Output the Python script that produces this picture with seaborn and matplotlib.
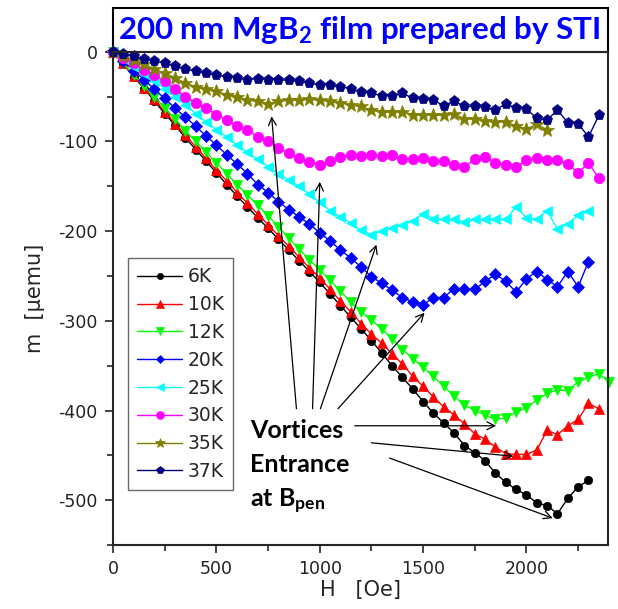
import pandas as pd
import seaborn as sns
import matplotlib.pyplot as plt
from matplotlib.patches import Rectangle
from matplotlib.ticker import MultipleLocator

# field grid [Oe] (50 Oe steps) and m [uemu] per temperature
H_Oe = [0, 50, 100, 150, 200, 250, 300, 350, 400, 450,
        500, 550, 600, 650, 700, 750, 800, 850, 900, 950,
        1000, 1050, 1100, 1150, 1200, 1250, 1300, 1350, 1400, 1450,
        1500, 1550, 1600, 1650, 1700, 1750, 1800, 1850, 1900, 1950,
        2000, 2050, 2100, 2150, 2200, 2250, 2300, 2350, 2400]

m_6K = [0, -14, -28, -41, -55, -69, -82, -96, -109, -122,
        -135, -148, -161, -173, -185, -197, -209, -221, -233, -245,
        -257, -270, -283, -296, -309, -322, -336, -350, -363, -376,
        -390, -403, -414, -425, -439, -447, -456, -470, -480, -488,
        -494, -503, -506, -515, -498, -485, -478]
m_10K = [0, -13, -27, -40, -53, -67, -80, -93, -106, -119,
         -132, -144, -157, -169, -181, -193, -205, -217, -229, -241,
         -252, -265, -278, -290, -303, -315, -325, -337, -348, -362,
         -373, -385, -396, -405, -415, -426, -432, -441, -448, -449,
         -449, -444, -422, -427, -417, -410, -392, -398]
m_12K = [0, -13, -26, -38, -50, -63, -75, -88, -100, -112,
         -124, -136, -148, -160, -171, -183, -195, -208, -220, -232,
         -243, -255, -267, -279, -290, -299, -309, -320, -332, -342,
         -352, -362, -373, -384, -394, -400, -405, -410, -408, -402,
         -397, -388, -381, -377, -378, -368, -363, -359, -368]
m_20K = [0, -10, -21, -31, -42, -52, -63, -73, -83, -94,
         -104, -115, -125, -136, -148, -157, -167, -176, -184, -192,
         -202, -211, -221, -230, -240, -251, -258, -266, -274, -279,
         -282, -274, -274, -264, -265, -265, -256, -248, -256, -268,
         -253, -245, -254, -262, -245, -262, -234]
m_25K = [0, -8, -17, -25, -33, -41, -50, -59, -69, -78,
         -87, -95, -104, -112, -120, -128, -136, -143, -150, -159,
         -168, -177, -184, -191, -199, -204, -200, -197, -193, -189,
         -181, -186, -187, -187, -190, -187, -187, -186, -187, -173,
         -185, -187, -177, -198, -192, -182, -178]
m_30K = [0, -7, -13, -20, -26, -33, -42, -50, -57, -63,
         -70, -76, -83, -87, -95, -100, -107, -113, -119, -123,
         -126, -122, -117, -115, -116, -115, -116, -115, -120, -120,
         -119, -122, -122, -126, -128, -120, -117, -124, -126, -128,
         -121, -119, -121, -121, -125, -135, -124, -141]
m_35K = [0, -5, -9, -14, -19, -24, -29, -35, -39, -42,
         -44, -48, -50, -54, -55, -58, -55, -54, -54, -53,
         -54, -55, -57, -59, -61, -65, -67, -67, -67, -70,
         -70, -70, -71, -69, -75, -75, -77, -78, -78, -83,
         -86, -81, -87]
m_37K = [0, -3, -5, -8, -10, -13, -16, -19, -22, -24,
         -26, -28, -29, -31, -30, -31, -31, -32, -33, -35,
         -37, -37, -39, -41, -45, -46, -49, -49, -46, -52,
         -53, -54, -60, -55, -61, -61, -62, -65, -58, -63,
         -64, -74, -76, -65, -79, -80, -95, -71]

temps = ['6K', '10K', '12K', '20K', '25K', '30K', '35K', '37K']
series = [m_6K, m_10K, m_12K, m_20K, m_25K, m_30K, m_35K, m_37K]

colors = ['#000000', '#ff0000', '#00ff00', '#0000ff',
          '#00ffff', '#ff00ff', '#808000', '#000080']
markers = ['o', '^', 'v', 'D', '<', 'o', '*', 'p']
msizes = [6, 7.5, 7.5, 6, 7.5, 7.5, 10, 8]

rows = []
for t, m in zip(temps, series):
    for h, v in zip(H_Oe, m):
        rows.append((t, h, v))
df = pd.DataFrame(rows, columns=['T', 'H', 'm'])

sns.set_style('ticks')
plt.rcParams['font.family'] = ['DejaVu Sans']
plt.rcParams['mathtext.default'] = 'regular'
plt.rcParams['axes.unicode_minus'] = False

fig = plt.figure(figsize=(6.18, 6.09), dpi=100)
ax = fig.add_axes([0.183, 0.105, 0.801, 0.81])

sns.lineplot(data=df, x='H', y='m', hue='T', style='T',
             hue_order=temps, style_order=temps,
             palette=dict(zip(temps, colors)),
             markers=dict(zip(temps, markers)), dashes=False,
             markeredgecolor=None, markeredgewidth=0.5,
             linewidth=1, legend=False, ax=ax, clip_on=False)

for line, ms in zip(ax.lines, msizes):
    line.set_markersize(ms)

leg = ax.legend(ax.lines, temps, loc='upper left', bbox_to_anchor=(0.03, 0.582),
                borderaxespad=0, fontsize=13.5, frameon=True, fancybox=False,
                edgecolor='#444444', handlelength=2.4, handletextpad=0.3,
                labelspacing=0.47, borderpad=0.5, markerscale=0.75)
leg.get_frame().set_linewidth(1)

ax.set_xlim(0, 2395)
ax.set_ylim(-550, 0)
ax.xaxis.set_major_locator(MultipleLocator(500))
ax.xaxis.set_minor_locator(MultipleLocator(250))
ax.yaxis.set_major_locator(MultipleLocator(100))
ax.yaxis.set_minor_locator(MultipleLocator(50))
ax.tick_params(which='major', direction='out', length=6, width=1.2,
               labelsize=12.5, labelcolor='#222222', pad=5)
ax.tick_params(which='minor', direction='out', length=4, width=1.2)
for s in ax.spines.values():
    s.set_linewidth(1.5)

ax.set_xlabel('H   [Oe]', fontsize=15, labelpad=1)
ax.set_ylabel('m  [\u03bcemu]', fontsize=15, labelpad=10)

# title box above the plot
ax.add_patch(Rectangle((0, 1), 1, 0.089, transform=ax.transAxes,
                       fill=False, edgecolor='black', lw=1.5, clip_on=False))
ax.text(0.497, 1.026, '200 nm MgB$_2$ film prepared by STI', transform=ax.transAxes,
        ha='center', va='baseline', fontsize=22.5, fontweight='bold',
        color='#0000ff', family='Lato')

# annotation
tkw = dict(fontsize=18, fontweight='bold', family='Lato', color='black')
ax.text(663, -431, 'Vortices', **tkw)
ax.text(663, -469, 'Entrance', **tkw)
ax.text(663, -508, 'at B$_{pen}$', **tkw)

akw = dict(arrowstyle='->', lw=0.9, color='black', shrinkA=0, shrinkB=0,
           mutation_scale=14)
ax.annotate('', xy=(767, -72), xytext=(887, -398), arrowprops=akw)
ax.annotate('', xy=(1000, -145), xytext=(965, -398), arrowprops=akw)
ax.annotate('', xy=(1274, -215), xytext=(1003, -398), arrowprops=akw)
ax.annotate('', xy=(1507, -291), xytext=(1088, -398), arrowprops=akw)
ax.annotate('', xy=(1853, -417), xytext=(1169, -417), arrowprops=akw)
ax.annotate('', xy=(1937, -451), xytext=(1250, -436), arrowprops=akw)
ax.annotate('', xy=(2127, -520), xytext=(1338, -453), arrowprops=akw)

fig.savefig('out.png', dpi=100)
